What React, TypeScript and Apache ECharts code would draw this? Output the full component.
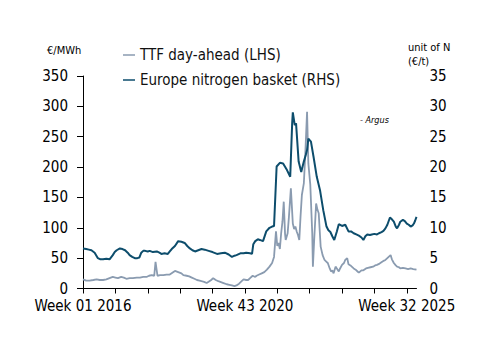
import React, { useEffect, useRef } from "react";
import * as echarts from "echarts";

// Weekly index: 0 = Week 01 2016, 250 = Week 43 2020, 500 = Week 32 2025
const xTickWeeks = [0, 50, 100, 150, 200, 250, 300, 350, 400, 450, 500];
const xLabelWeeks = [0, 250, 500];
const xLabels = ["Week 01 2016", "Week 43 2020", "Week 32 2025"];

const leftTicks = { min: 0, max: 350, interval: 50 };
const rightTicks = { min: 0, max: 35, interval: 5 };

// TTF day-ahead (€/MWh, LHS)
const ttfWeeks = [
  0, 5, 10, 16, 21, 26, 31, 36, 41, 46, 50, 54, 59, 63, 67, 72, 77, 83, 88, 93, 98, 102, 106, 110, 112, 115,
  119, 124, 129, 134, 138, 142, 147, 152, 155, 160, 164, 168, 172, 176, 180, 183, 187, 191, 194, 198, 201,
  205, 209, 212, 217, 222, 226, 230, 234, 237, 241, 245, 248, 252, 255, 258, 262, 266, 268, 272, 276, 280,
  284, 288, 292, 295, 298, 300, 302, 304, 306, 308, 310, 312, 313, 316, 318, 321, 324, 326, 328, 330, 332,
  334, 336, 338, 341, 343, 346, 348, 351, 354, 355, 357, 360, 362, 364, 367, 370, 373, 376, 378, 381, 383,
  385, 387, 390, 392, 395, 397, 400, 403, 405, 408, 410, 413, 415, 418, 421, 424, 426, 430, 433, 437, 440,
  444, 448, 451, 454, 458, 462, 465, 467, 470, 472, 475, 477, 480, 483, 485, 488, 490, 494, 498, 502, 506,
  510, 515,
];
const ttfValues = [
  15, 13, 13, 14, 15, 14, 14, 15, 17, 19, 18, 17, 19, 18, 16, 17, 17, 18, 18, 19, 19, 21, 22, 21, 44, 21,
  22, 22, 23, 23, 26, 29, 27, 25, 22, 21, 20, 18, 16, 14, 13, 12, 11, 9, 11, 14, 17, 14, 12, 11, 9, 7, 6,
  5, 4, 5, 8, 12, 15, 14, 14, 17, 21, 19, 21, 23, 25, 27, 31, 36, 42, 52, 94, 70, 75, 65, 91, 110, 143, 90,
  80, 91, 118, 165, 107, 98, 102, 94, 88, 80, 120, 154, 173, 215, 291, 206, 171, 91, 36, 80, 140, 130, 124,
  69, 55, 47, 44, 42, 33, 28, 30, 25, 36, 33, 28, 33, 39, 42, 47, 50, 40, 38, 36, 33, 31, 28, 26, 30, 30,
  33, 34, 35, 36, 38, 39, 41, 44, 46, 47, 50, 52, 55, 48, 42, 38, 36, 35, 33, 34, 33, 32, 33, 32, 31, 32,
];

// Europe nitrogen basket (€/t unit of N, RHS)
const nitrogenWeeks = [
  0, 5, 9, 13, 18, 23, 27, 31, 36, 41, 46, 49, 52, 57, 61, 65, 69, 72, 76, 80, 84, 87, 90, 93, 96, 100, 103,
  108, 114, 118, 121, 126, 131, 134, 137, 142, 147, 152, 157, 161, 165, 169, 173, 178, 183, 188, 194, 200,
  207, 213, 219, 225, 230, 234, 237, 243, 248, 252, 258, 261, 263, 266, 270, 273, 278, 283, 288, 292, 295,
  299, 304, 309, 315, 320, 323, 324, 327, 329, 333, 337, 341, 344, 346, 348, 352, 356, 361, 366, 371, 376,
  379, 382, 385, 388, 392, 395, 400, 405, 410, 414, 418, 422, 426, 430, 433, 436, 439, 443, 446, 450, 454,
  457, 461, 464, 467, 470, 474, 477, 480, 483, 485, 488, 490, 494, 497, 500, 503, 506, 509, 511, 513, 515,
];
const nitrogenValues = [
  6.6, 6.5, 6.4, 6.3, 5.9, 5.0, 4.8, 4.8, 4.9, 4.8, 5.5, 6.0, 6.3, 6.6, 6.5, 6.3, 5.9, 5.5, 5.2, 5.0, 5.0,
  5.1, 5.9, 6.2, 6.2, 6.1, 6.2, 6.0, 6.1, 5.9, 5.7, 5.8, 5.7, 6.1, 6.5, 7.0, 7.8, 7.7, 7.5, 7.0, 6.6, 6.3,
  6.1, 6.3, 6.5, 6.4, 6.2, 6.0, 5.7, 5.8, 5.9, 5.6, 5.2, 5.4, 5.5, 5.8, 5.8, 5.9, 5.8, 5.7, 7.3, 7.8, 8.1,
  8.0, 7.8, 9.4, 10.0, 10.2, 10.3, 20.1, 20.7, 20.6, 19.5, 18.4, 27.2, 29.0, 26.9, 27.2, 20.9, 19.2, 20.9,
  22.0, 22.8, 24.7, 24.2, 21.7, 18.4, 16.2, 12.9, 10.2, 9.6, 9.3, 8.6, 8.0, 9.4, 10.6, 10.3, 10.5, 9.4,
  9.4, 9.1, 8.9, 8.7, 8.4, 8.0, 8.6, 8.9, 8.8, 8.9, 9.0, 8.9, 9.1, 9.3, 9.5, 9.9, 10.5, 11.7, 11.4, 11.0,
  10.2, 9.9, 10.5, 11.0, 11.3, 11.1, 10.7, 10.5, 10.2, 10.4, 10.7, 11.2, 11.8,
];

const FONT = "'DejaVu Sans Condensed', 'Liberation Sans', sans-serif";
const TTF_COLOR = "#8a9bb0";
const N_COLOR = "#0d4d6c";

export default function App() {
  const ref = useRef<HTMLDivElement>(null);
  useEffect(() => {
    document.body.style.margin = "0";
    const chart = echarts.init(ref.current!, null, { renderer: "svg" });
    chart.setOption({
      animation: false,
      backgroundColor: "#ffffff",
      textStyle: { fontFamily: FONT },
      legend: {
        orient: "vertical",
        left: 118,
        top: 40,
        itemGap: 5,
        icon: "rect",
        itemWidth: 12,
        itemHeight: 1.5,
        textStyle: { fontFamily: FONT, fontSize: 15, color: "#111", lineHeight: 20 },
        data: ["TTF day-ahead (LHS)", "Europe nitrogen basket (RHS)"],
      },
      grid: { left: 83, right: 83.5, top: 76, bottom: 64.5 },
      xAxis: {
        type: "value",
        min: 0,
        max: 515,
        splitLine: { show: false },
        axisLine: { show: true, lineStyle: { color: "#000", width: 1 } },
        axisTick: { show: true, length: 5, customValues: xTickWeeks, lineStyle: { color: "#000" } },
        axisLabel: {
          customValues: xLabelWeeks,
          formatter: (v: number) => {
            const i = xLabelWeeks.indexOf(Math.round(v));
            return i >= 0 ? xLabels[i] : "";
          },
          fontFamily: FONT,
          fontSize: 15,
          color: "#000",
          margin: 10,
        },
      },
      yAxis: [
        {
          type: "value",
          ...leftTicks,
          splitLine: { show: false },
          axisLine: { show: true, lineStyle: { color: "#000", width: 1 } },
          axisTick: { show: true, length: 6, lineStyle: { color: "#000" } },
          axisLabel: { fontFamily: FONT, fontSize: 15, color: "#000", margin: 15 },
        },
        {
          type: "value",
          position: "right",
          ...rightTicks,
          splitLine: { show: false },
          axisLine: { show: false },
          axisTick: { show: false },
          axisLabel: { fontFamily: FONT, fontSize: 15, color: "#000", margin: 13 },
        },
      ],
      graphic: [
        { type: "text", left: 47, top: 45, style: { text: "€/MWh", font: `11px ${FONT}`, fill: "#000" } },
        { type: "text", left: 408, top: 42, style: { text: "unit of N", font: `11px ${FONT}`, fill: "#000" } },
        { type: "text", left: 408, top: 56, style: { text: "(€/t)", font: `11px ${FONT}`, fill: "#000" } },
        { type: "text", left: 360, top: 115, style: { text: "- Argus", font: `italic 9px ${FONT}`, fill: "#000" } },
      ],
      series: [
        {
          name: "TTF day-ahead (LHS)",
          type: "line",
          yAxisIndex: 0,
          showSymbol: false,
          symbol: "none",
          color: TTF_COLOR,
          lineStyle: { width: 1.8, color: TTF_COLOR },
          data: ttfWeeks.map((w, i) => [w, ttfValues[i]]),
        },
        {
          name: "Europe nitrogen basket (RHS)",
          type: "line",
          yAxisIndex: 1,
          showSymbol: false,
          symbol: "none",
          color: N_COLOR,
          lineStyle: { width: 2, color: N_COLOR },
          data: nitrogenWeeks.map((w, i) => [w, nitrogenValues[i]]),
        },
      ],
    });
    return () => chart.dispose();
  }, []);
  return <div ref={ref} style={{ width: 500, height: 353 }} />;
}
